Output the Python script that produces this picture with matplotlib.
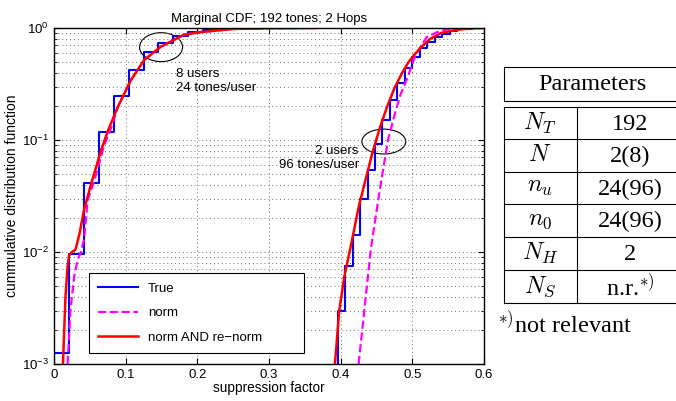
import matplotlib
matplotlib.use("Agg")
import matplotlib.pyplot as plt
from matplotlib.patches import Ellipse, Rectangle
from matplotlib.lines import Line2D
from matplotlib.ticker import LogLocator, NullFormatter

plt.rcParams['font.family'] = ['Liberation Sans', 'DejaVu Sans']

# empirical CDF, 8 users / 24 tones per user
true8_x = [-0.01, 0.0, 0.0208, 0.0417, 0.0625, 0.0833, 0.1042, 0.125, 0.1458,
           0.1667, 0.1875, 0.2083, 0.2292, 0.25, 0.2708, 0.2917]
true8_y = [1e-4, 0.00126, 0.0096, 0.041, 0.118, 0.247, 0.42, 0.61, 0.73,
           0.84, 0.92, 0.96, 0.985, 0.995, 0.999, 1.0]
norm8_x = [0.019, 0.023, 0.028, 0.033, 0.037, 0.042, 0.047, 0.057, 0.07, 0.08,
           0.089, 0.107, 0.126, 0.149, 0.181, 0.205, 0.25, 0.3, 0.365]
norm8_y = [0.001, 0.003, 0.006, 0.0085, 0.0098, 0.013, 0.029, 0.045, 0.09, 0.13,
           0.197, 0.34, 0.52, 0.68, 0.87, 0.92, 0.98, 0.995, 1.0]
renorm8_x = [0.0125, 0.016, 0.019, 0.021, 0.025, 0.03, 0.036, 0.042, 0.052, 0.066,
             0.075, 0.089, 0.107, 0.126, 0.149, 0.181, 0.205, 0.25, 0.3, 0.365]
renorm8_y = [0.001, 0.004, 0.0075, 0.0093, 0.0100, 0.0105, 0.015, 0.024, 0.041, 0.082,
             0.12, 0.197, 0.34, 0.52, 0.68, 0.87, 0.92, 0.98, 0.995, 1.0]

# empirical CDF, 2 users / 96 tones per user
true2_x = [0.38, 0.3958, 0.4063, 0.4167, 0.4271, 0.4375, 0.4479, 0.4583, 0.4688,
           0.4792, 0.4896, 0.5, 0.5104, 0.5208, 0.5313, 0.5417, 0.5521, 0.5625,
           0.5729, 0.5833, 0.5938]
true2_y = [1e-4, 0.003, 0.0075, 0.0142, 0.03, 0.054, 0.093, 0.15, 0.227, 0.32,
           0.44, 0.55, 0.66, 0.75, 0.83, 0.89, 0.94, 0.97, 0.985, 0.995, 1.0]
norm2_x = [0.425, 0.433, 0.442, 0.453, 0.466, 0.477, 0.484, 0.494, 0.502, 0.509,
           0.52, 0.535, 0.55, 0.57, 0.59]
norm2_y = [0.001, 0.003, 0.0105, 0.031, 0.1, 0.185, 0.26, 0.37, 0.52, 0.64,
           0.83, 0.92, 0.98, 0.995, 1.0]
renorm2_x = [0.392, 0.398, 0.405, 0.415, 0.425, 0.435, 0.445, 0.455, 0.465, 0.475,
             0.485, 0.495, 0.505, 0.515, 0.525, 0.54, 0.56, 0.58, 0.6]
renorm2_y = [0.001, 0.003, 0.006, 0.012, 0.025, 0.045, 0.08, 0.13, 0.2, 0.29,
             0.39, 0.5, 0.6, 0.7, 0.8, 0.9, 0.96, 0.99, 1.0]

param_names = ['$N_T$', '$N$', '$n_u$', '$n_0$', '$N_H$', '$N_S$']
param_values = ['192', '2(8)', '24(96)', '24(96)', '2', 'n.r.$^{*)}$']

W, H = 676, 401
fig = plt.figure(figsize=(W / 100, H / 100), dpi=100)
ax = fig.add_axes([54 / W, 1 - 364 / H, 430 / W, 336 / H])

ax.step(true8_x, true8_y, where='post', color='#0000ff', lw=1.5, label='True')
ax.plot(norm8_x, norm8_y, '--', color='#ff00ff', lw=1.6, label='norm')
ax.plot(renorm8_x, renorm8_y, color='#ff0000', lw=1.8, label='norm AND re\u2212norm')
ax.step(true2_x, true2_y, where='post', color='#0000ff', lw=1.5)
ax.plot(norm2_x, norm2_y, '--', color='#ff00ff', lw=1.6)
ax.plot(renorm2_x, renorm2_y, color='#ff0000', lw=1.8)

ax.set_yscale('log')
ax.set_xlim(0, 0.6)
ax.set_ylim(1e-3, 1)
ax.set_xticks([0, 0.1, 0.2, 0.3, 0.4, 0.5, 0.6])
ax.set_xticklabels(['0', '0.1', '0.2', '0.3', '0.4', '0.5', '0.6'])
ax.yaxis.set_minor_locator(LogLocator(base=10, subs=range(2, 10)))
ax.yaxis.set_minor_formatter(NullFormatter())
ax.tick_params(which='both', direction='in', top=True, right=True, labelsize=9.5)
ax.tick_params(which='major', length=4)
ax.tick_params(which='minor', length=2)
grid_style = dict(ls=(0, (1, 3)), color='#707070', lw=0.7)
ax.grid(True, which='major', axis='x', **grid_style)
ax.grid(True, which='both', axis='y', **grid_style)
for s in ax.spines.values():
    s.set_linewidth(1.0)

ax.set_title('Marginal CDF; 192 tones; 2 Hops', fontsize=9.5, pad=4)
ax.set_xlabel('suppression factor', fontsize=9.8, labelpad=0)
ax.set_ylabel('cummulative distribution function', fontsize=10, labelpad=2)

ax.add_patch(Ellipse((0.249, 0.943), 0.1, 0.086, transform=ax.transAxes,
                     fill=False, ec='black', lw=0.8))
ax.add_patch(Ellipse((0.767, 0.662), 0.102, 0.074, transform=ax.transAxes,
                     fill=False, ec='black', lw=0.8))
ax.text(0.284, 0.842, '8 users\n24 tones/user', transform=ax.transAxes,
        fontsize=9.5, ha='left', va='center', linespacing=1.2)
ax.text(0.709, 0.613, '2 users\n96 tones/user', transform=ax.transAxes,
        fontsize=9.5, ha='right', va='center', linespacing=1.2)

leg = ax.legend(loc='lower left', bbox_to_anchor=(0.081, 0.033, 0.5, 0.235),
                mode='expand', fancybox=False, framealpha=1, edgecolor='black',
                fontsize=9.5, handlelength=3.0, borderaxespad=0, labelspacing=0.93,
                borderpad=0.7)
leg.get_frame().set_linewidth(0.8)


def fp(x, y):
    return (x / W, 1 - y / H)


tf = fig.transFigure
# header box
x0, y0 = fp(504, 101)
x1, y1 = fp(690, 67)
fig.patches.append(Rectangle((x0, y0), x1 - x0, y1 - y0, transform=tf,
                             fill=False, ec='black', lw=0.8))
fig.text(*fp(592, 85), 'Parameters', ha='center', va='center',
         family='Liberation Serif', fontsize=17.5)

rows = [107, 139, 172, 204, 237, 270, 303]
for r in rows:
    fig.lines.append(Line2D([504 / W, 1.0], [1 - r / H] * 2, transform=tf,
                            color='black', lw=0.8))
for cx in (504, 577):
    fig.lines.append(Line2D([cx / W] * 2, [1 - rows[0] / H, 1 - rows[-1] / H],
                            transform=tf, color='black', lw=0.8))
for i, (nm, val) in enumerate(zip(param_names, param_values)):
    cy = (rows[i] + rows[i + 1]) / 2
    fig.text(*fp(540, cy), nm, ha='center', va='center', fontsize=17.5,
             math_fontfamily='cm', family='Liberation Serif')
    fig.text(*fp(630, cy + 1), val, ha='center', va='center', fontsize=17.5,
             math_fontfamily='cm', family='Liberation Serif')
fig.text(*fp(497, 324), '$^{*)}$not relevant', ha='left', va='center',
         fontsize=17.5, math_fontfamily='cm', family='Liberation Serif')

fig.savefig('out.png', dpi=100)
